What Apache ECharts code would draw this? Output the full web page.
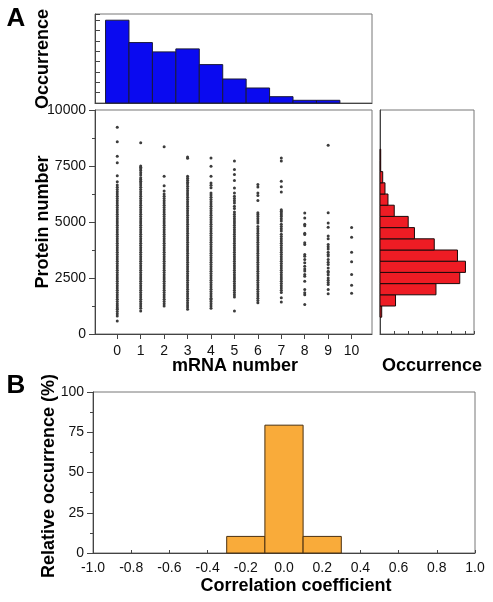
<!DOCTYPE html>
<html><head><meta charset="utf-8">
<script src="https://cdn.jsdelivr.net/npm/echarts@6/dist/echarts.min.js"></script>
<style>html,body{margin:0;padding:0;background:#fff}#c{width:493px;height:602px}</style>
</head><body><div id="c"></div>
<script>
// ---- data ----
const mrnaValues = [0, 1, 2, 3, 4, 5, 6, 7, 8, 9, 10];
const mrnaOccurrence = [800, 584, 494, 523, 371, 232, 145, 61, 26, 26, 0];
const proteinBinCenters = [1000, 1500, 2000, 2500, 3000, 3500, 4000, 4500, 5000, 5500, 6000, 6500, 7000, 7500, 8000];
const proteinOccurrence = [12, 109, 393, 560, 600, 544, 381, 242, 198, 100, 56, 35, 19, 5, 5];
const corrBinCenters = [-0.2, 0.0, 0.2];
const corrRelOccurrence = [10.3, 79.4, 10.3];
const mrnaTickLabels = [0, 1, 2, 3, 4, 5, 6, 7, 8, 9, 10];
const proteinTickLabels = [0, 2500, 5000, 7500, 10000];

const protein0 = [9230, 8580, 7940, 7640, 7070, 6800, 6650, 6550, 6450, 6350, 6250, 6150, 6050, 5950, 5850, 5750, 5650, 5550, 5450, 5350, 5250, 5150, 5050, 4950, 4850, 4750, 4650, 4550, 4450, 4350, 4250, 4150, 4050, 3950, 3850, 3750, 3650, 3550, 3450, 3350, 3250, 3150, 3050, 2950, 2850, 2750, 2650, 2550, 2450, 2350, 2250, 2150, 2050, 1950, 1850, 1750, 1650, 1550, 1450, 1350, 1260, 1170, 1100, 1000, 900, 800, 580];
const protein1 = [8540, 7500, 7440, 7380, 7300, 7200, 7100, 6980, 6900, 6820, 6740, 6650, 6550, 6450, 6350, 6250, 6150, 6050, 5950, 5850, 5750, 5650, 5550, 5450, 5350, 5250, 5150, 5050, 4950, 4850, 4750, 4650, 4550, 4450, 4350, 4250, 4150, 4050, 3950, 3850, 3750, 3650, 3550, 3450, 3350, 3250, 3150, 3050, 2950, 2850, 2750, 2650, 2550, 2450, 2350, 2250, 2150, 2050, 1950, 1850, 1750, 1650, 1550, 1450, 1350, 1250, 1150, 1030];
const protein2 = [8360, 7040, 6620, 6380, 6250, 6150, 6050, 5950, 5850, 5750, 5650, 5550, 5450, 5350, 5250, 5150, 5050, 4950, 4850, 4750, 4650, 4550, 4450, 4350, 4250, 4150, 4050, 3950, 3850, 3750, 3650, 3550, 3450, 3350, 3250, 3150, 3050, 2950, 2850, 2750, 2650, 2550, 2450, 2350, 2250, 2150, 2050, 1950, 1850, 1750, 1650, 1550, 1450, 1350, 1250];
const protein3 = [7900, 7850, 7040, 6950, 6860, 6780, 6700, 6600, 6500, 6400, 6300, 6200, 6100, 6000, 5900, 5800, 5700, 5600, 5500, 5400, 5300, 5200, 5100, 5000, 4900, 4800, 4700, 4600, 4500, 4400, 4300, 4200, 4100, 4000, 3900, 3800, 3700, 3600, 3500, 3400, 3300, 3200, 3100, 3000, 2900, 2800, 2700, 2600, 2500, 2400, 2300, 2200, 2100, 2000, 1900, 1800, 1700, 1600, 1500, 1400, 1300, 1200, 1100];
const protein4 = [7860, 7490, 7040, 6740, 6640, 6530, 6300, 6200, 6100, 6000, 5900, 5800, 5700, 5600, 5500, 5400, 5300, 5200, 5100, 5000, 4900, 4800, 4700, 4600, 4500, 4400, 4300, 4200, 4100, 4000, 3900, 3800, 3700, 3600, 3500, 3400, 3300, 3200, 3100, 3000, 2900, 2800, 2700, 2600, 2500, 2400, 2300, 2200, 2100, 2000, 1900, 1800, 1700, 1600, 1540, 1450, 1350, 1250, 1150];
const protein5 = [7720, 7340, 7120, 6850, 6520, 6300, 6150, 6050, 5950, 5850, 5700, 5600, 5450, 5350, 5250, 5150, 5050, 4950, 4850, 4750, 4650, 4550, 4450, 4350, 4250, 4150, 4050, 3950, 3850, 3750, 3650, 3550, 3450, 3350, 3250, 3150, 3050, 2950, 2850, 2750, 2650, 2550, 2450, 2350, 2250, 2150, 2050, 1950, 1850, 1750, 1650, 1030];
const protein6 = [6670, 6560, 6300, 6180, 5960, 5410, 5330, 5250, 5150, 5050, 4950, 4800, 4700, 4600, 4500, 4400, 4300, 4200, 4100, 4000, 3900, 3800, 3700, 3600, 3500, 3400, 3300, 3200, 3100, 3000, 2900, 2800, 2700, 2600, 2500, 2400, 2300, 2200, 2100, 2000, 1900, 1800, 1700, 1600, 1500, 1400];
const protein7 = [7860, 7720, 6820, 6570, 6340, 5550, 5480, 5400, 5320, 5250, 5150, 5050, 4900, 4800, 4700, 4600, 4450, 4350, 4250, 4150, 4050, 3950, 3850, 3750, 3650, 3550, 3450, 3350, 3250, 3150, 3050, 2950, 2850, 2750, 2650, 2550, 2450, 2350, 2250, 2150, 2050, 1950, 1850, 1620, 1430];
const protein8 = [5400, 5180, 4900, 4830, 4500, 4440, 4070, 3990, 3550, 3470, 3330, 3180, 3030, 2900, 2810, 2660, 2580, 2360, 1990, 1840, 1750, 1320];
const protein9 = [8430, 5410, 4960, 4770, 4370, 4250, 3990, 3900, 3800, 3650, 3550, 3480, 3330, 3200, 3100, 2950, 2800, 2750, 2650, 2500, 2400, 2300, 2210, 1990, 1800];
const protein10 = [4750, 4320, 3650, 3230, 2660, 2180, 1820];
const proteinByMrna = [protein0, protein1, protein2, protein3, protein4, protein5, protein6, protein7, protein8, protein9, protein10];

// ---- build ----
const FONT = '"Liberation Sans", Arial, Helvetica, sans-serif';
const AXIS = '#444';
const BORDER = '#777';

const scatterData = [];
proteinByMrna.forEach((arr, i) => arr.forEach(v => scatterData.push([mrnaValues[i], v])));

const mrnaHist = mrnaValues.map((c, i) => [c - 0.5, c + 0.5, mrnaOccurrence[i]]);
const proteinHist = proteinBinCenters.map((c, i) => [c - 250, c + 250, proteinOccurrence[i]]);
const corrHist = corrBinCenters.map((c, i) => [c - 0.1, c + 0.1, corrRelOccurrence[i]]);

function vRect(fill, stroke) {
  return function (params, api) {
    const a = api.coord([api.value(0), 0]);
    const b = api.coord([api.value(1), api.value(2)]);
    if (api.value(2) <= 0) return null;
    return { type: 'rect', shape: { x: a[0], y: b[1], width: b[0] - a[0], height: a[1] - b[1] },
      style: { fill: fill, stroke: stroke, lineWidth: 1 } };
  };
}
function hRect(fill, stroke) {
  return function (params, api) {
    const a = api.coord([0, api.value(0)]);
    const b = api.coord([api.value(2), api.value(1)]);
    if (api.value(2) <= 0) return null;
    return { type: 'rect', shape: { x: a[0], y: b[1], width: b[0] - a[0], height: a[1] - b[1] },
      style: { fill: fill, stroke: stroke, lineWidth: 1 } };
  };
}

const lab = { color: '#111', fontSize: 14, fontFamily: FONT };
const axLine = { show: true, onZero: false, lineStyle: { color: AXIS, width: 1 } };
const plain = v => String(v);

const chart = echarts.init(document.getElementById('c'), null, { renderer: 'canvas' });
chart.setOption({
  animation: false,
  backgroundColor: '#fff',
  textStyle: { fontFamily: FONT },
  grid: [
    { left: 95, top: 14, width: 277, height: 89, show: true, borderColor: BORDER, borderWidth: 1, backgroundColor: 'transparent' },
    { left: 95, top: 110, width: 277, height: 224, show: true, borderColor: BORDER, borderWidth: 1, backgroundColor: 'transparent' },
    { left: 380, top: 110, width: 94, height: 224, show: true, borderColor: BORDER, borderWidth: 1, backgroundColor: 'transparent' },
    { left: 93, top: 392, width: 382, height: 161, show: true, borderColor: BORDER, borderWidth: 1, backgroundColor: 'transparent' }
  ],
  xAxis: [
    { gridIndex: 0, type: 'value', min: -0.95, max: 10.87, axisLine: axLine, axisTick: { show: false }, axisLabel: { show: false }, splitLine: { show: false } },
    { gridIndex: 1, type: 'value', min: -0.95, max: 10.87, axisLine: axLine,
      axisTick: { show: true, inside: false, length: 5, lineStyle: { color: AXIS }, customValues: mrnaTickLabels },
      axisLabel: { show: true, margin: 10, customValues: mrnaTickLabels, formatter: plain, ...lab }, splitLine: { show: false } },
    { gridIndex: 2, type: 'value', min: 0, max: 660, interval: 100, axisLine: axLine,
      axisTick: { show: true, inside: true, length: 3, lineStyle: { color: AXIS } }, axisLabel: { show: false }, splitLine: { show: false } },
    { gridIndex: 3, type: 'value', min: -1, max: 1, interval: 0.2, axisLine: axLine,
      axisTick: { show: true, inside: true, length: 3, lineStyle: { color: AXIS } },
      axisLabel: { show: true, margin: 8, ...lab, formatter: v => (Math.abs(v) < 1e-9 ? 0 : v).toFixed(1) }, splitLine: { show: false } }
  ],
  yAxis: [
    { gridIndex: 0, type: 'value', min: 0, max: 860, interval: 100, axisLine: axLine,
      axisTick: { show: true, inside: true, length: 5, lineStyle: { color: AXIS } }, axisLabel: { show: false }, splitLine: { show: false } },
    { gridIndex: 1, type: 'value', min: 0, max: 10000, interval: 2500, axisLine: axLine,
      axisTick: { show: true, length: 6, lineStyle: { color: AXIS } },
      minorTick: { show: true, splitNumber: 2, length: 3, lineStyle: { color: AXIS } },
      axisLabel: { show: true, margin: 9, formatter: plain, ...lab }, splitLine: { show: false }, minorSplitLine: { show: false } },
    { gridIndex: 2, type: 'value', min: 0, max: 10000, interval: 2500, axisLine: axLine, axisTick: { show: false }, axisLabel: { show: false }, splitLine: { show: false } },
    { gridIndex: 3, type: 'value', min: 0, max: 100, interval: 25, axisLine: axLine,
      axisTick: { show: true, length: 6, lineStyle: { color: AXIS } },
      minorTick: { show: true, splitNumber: 2, length: 3, lineStyle: { color: AXIS } },
      axisLabel: { show: true, margin: 9, formatter: plain, ...lab }, splitLine: { show: false }, minorSplitLine: { show: false } }
  ],
  series: [
    { type: 'custom', xAxisIndex: 0, yAxisIndex: 0, data: mrnaHist, encode: { x: [0, 1], y: 2 }, renderItem: vRect('#0a0af0', '#1a1a3a'), silent: true },
    { type: 'scatter', xAxisIndex: 1, yAxisIndex: 1, data: scatterData, symbol: 'circle', symbolSize: 3,
      itemStyle: { color: '#3c3c3c', opacity: 1 }, silent: true, large: false },
    { type: 'custom', xAxisIndex: 2, yAxisIndex: 2, data: proteinHist, encode: { x: 2, y: [0, 1] }, renderItem: hRect('#ee1c24', '#1a0a0a'), silent: true },
    { type: 'custom', xAxisIndex: 3, yAxisIndex: 3, data: corrHist, encode: { x: [0, 1], y: 2 }, renderItem: vRect('#f9ab3a', '#4a3010'), silent: true }
  ],
  graphic: [
    { type: 'text', x: 16, y: 19, style: { text: 'A', fontSize: 26, fontWeight: 'bold', fontFamily: FONT, fill: '#000', textAlign: 'center', textVerticalAlign: 'middle' } },
    { type: 'text', x: 43, y: 59, rotation: Math.PI / 2, style: { text: 'Occurrence', fontSize: 18, fontWeight: 'bold', fontFamily: FONT, fill: '#000', textAlign: 'center', textVerticalAlign: 'middle' } },
    { type: 'text', x: 43, y: 222, rotation: Math.PI / 2, style: { text: 'Protein number', fontSize: 18, fontWeight: 'bold', fontFamily: FONT, fill: '#000', textAlign: 'center', textVerticalAlign: 'middle' } },
    { type: 'text', x: 235, y: 366, style: { text: 'mRNA number', fontSize: 18, fontWeight: 'bold', fontFamily: FONT, fill: '#000', textAlign: 'center', textVerticalAlign: 'middle' } },
    { type: 'text', x: 432, y: 366, style: { text: 'Occurrence', fontSize: 18, fontWeight: 'bold', fontFamily: FONT, fill: '#000', textAlign: 'center', textVerticalAlign: 'middle' } },
    { type: 'text', x: 16, y: 386, style: { text: 'B', fontSize: 26, fontWeight: 'bold', fontFamily: FONT, fill: '#000', textAlign: 'center', textVerticalAlign: 'middle' } },
    { type: 'text', x: 49, y: 476, rotation: Math.PI / 2, style: { text: 'Relative occurrence (%)', fontSize: 18, fontWeight: 'bold', fontFamily: FONT, fill: '#000', textAlign: 'center', textVerticalAlign: 'middle' } },
    { type: 'text', x: 296, y: 586, style: { text: 'Correlation coefficient', fontSize: 18, fontWeight: 'bold', fontFamily: FONT, fill: '#000', textAlign: 'center', textVerticalAlign: 'middle' } }
  ]
});
</script>
</body></html>
